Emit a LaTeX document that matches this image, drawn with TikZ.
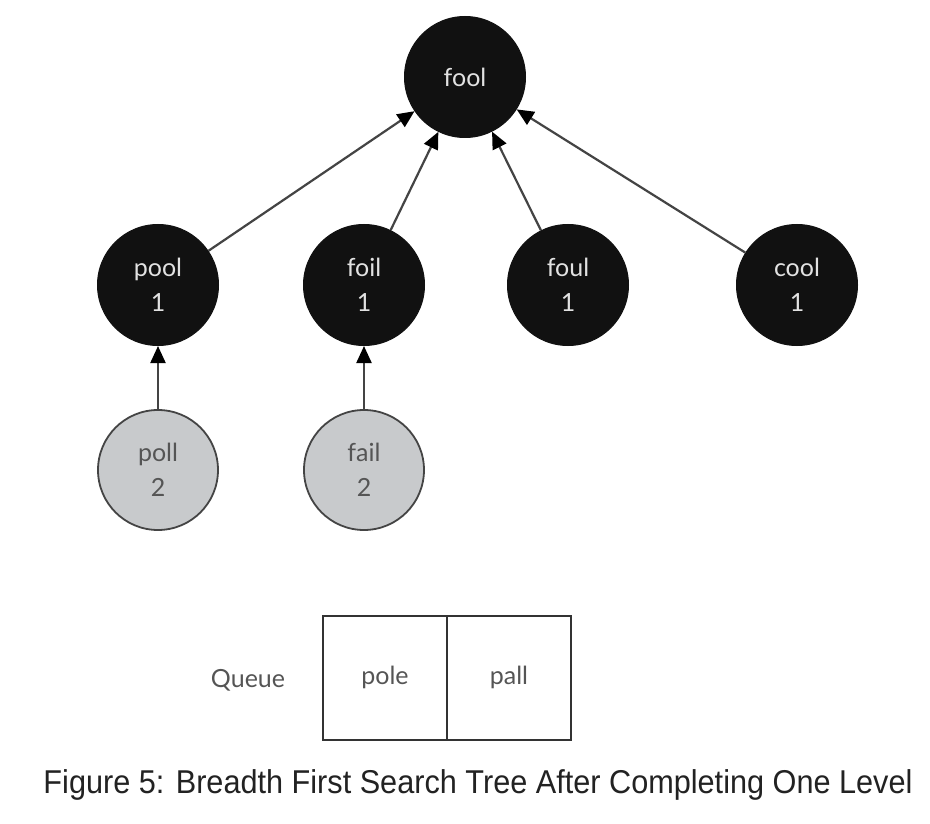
\documentclass[tikz,border=0pt]{standalone}
\usepackage{fontspec}
\usepackage{graphicx}
\setmainfont{Liberation Sans}
\newfontfamily\nodefont{Lato}
\usetikzlibrary{arrows.meta}
\definecolor{nodeblack}{HTML}{111111}
\definecolor{lighttext}{HTML}{E2E2E2}
\definecolor{nodegray}{HTML}{C8CACC}
\definecolor{edgegray}{HTML}{444444}
\definecolor{graytext}{HTML}{555555}
\definecolor{boxline}{HTML}{333333}
\definecolor{captext}{HTML}{222222}
\begin{document}
\begin{tikzpicture}[x=1pt,y=-1pt,
  darknode/.style={circle,fill=nodeblack,draw=nodeblack,line width=1pt,minimum size=121pt,inner sep=0pt,
    text=lighttext,font=\nodefont\fontsize{25}{35}\selectfont,align=center},
  lightnode/.style={circle,fill=nodegray,draw=edgegray,line width=1.8pt,minimum size=120pt,inner sep=0pt,
    text=graytext,font=\nodefont\fontsize{25}{35}\selectfont,align=center},
  edge/.style={draw=edgegray,line width=2.2pt,-{Triangle[length=17pt,width=15pt,color=black]}},
  cell/.style={rectangle,draw=boxline,line width=2pt,minimum width=124pt,minimum height=124pt,inner sep=0pt,
    text=graytext,font=\nodefont\fontsize{25}{30}\selectfont},
  label/.style={text=graytext,font=\nodefont\fontsize{25}{30}\selectfont},
  caption/.style={text=captext,font=\fontsize{33}{40}\selectfont}]
\useasboundingbox (0,0) rectangle (930,824);
\fill[white] (0,0) rectangle (930,824);
\node[darknode] (fool) at (465,77) {fool};
\node[darknode] (pool) at (158,285) {pool\\1};
\node[darknode] (foil) at (364,285) {foil\\1};
\node[darknode] (foul) at (568,285) {foul\\1};
\node[darknode] (cool) at (797,285) {cool\\1};
\node[lightnode] (poll) at (158,470) {poll\\2};
\node[lightnode] (fail) at (364,470) {fail\\2};
\draw[edge] (pool) -- (fool);
\draw[edge] (foil) -- (fool);
\draw[edge] (foul) -- (fool);
\draw[edge] (cool) -- (fool);
\draw[edge] (poll) -- (pool);
\draw[edge] (fail) -- (foil);
\node[cell] (q1) at (385,677.5) {pole};
\node[cell] (q2) at (509,677.5) {pall};
\node[label] (ql) at (248,680) {Queue};
\node[caption] (cap) at (478,785) {\resizebox{869pt}{\height}{Figure 5: Breadth First Search Tree After Completing One Level}};
\end{tikzpicture}
\end{document}
